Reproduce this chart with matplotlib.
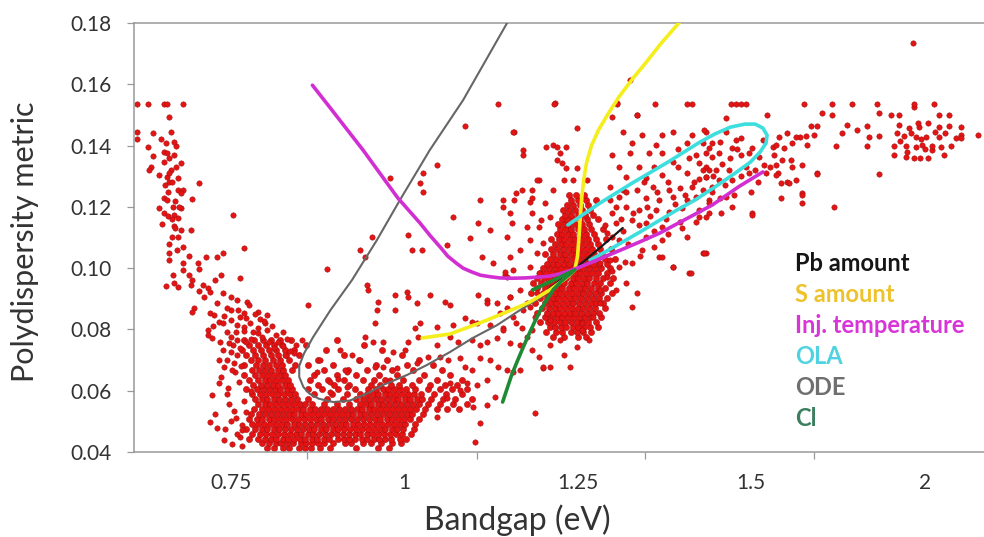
import numpy as np
import matplotlib.pyplot as plt

plt.rcParams["font.family"] = ["Lato", "DejaVu Sans"]

# ---- scatter: (bandgap eV, polydispersity) ----
top_row_y = 0.1535
top_row_x = [0.616, 0.631, 0.654, 0.659, 0.682, 1.135, 1.216, 1.307, 1.361, 1.407, 1.415,
             1.471, 1.478, 1.486, 1.493, 1.652, 1.733, 1.790, 1.862, 1.968, 2.026]

left_band = [
    (0.616, 0.1444), (0.616, 0.1421), (0.638, 0.1441), (0.661, 0.1493), (0.664, 0.1444),
    (0.657, 0.1408), (0.671, 0.1398), (0.631, 0.1395), (0.638, 0.1366), (0.654, 0.1379),
    (0.659, 0.1375), (0.661, 0.1359), (0.654, 0.1346), (0.678, 0.1343), (0.635, 0.1330),
    (0.632, 0.1320), (0.664, 0.1320), (0.647, 0.1304), (0.659, 0.1297), (0.675, 0.1294),
    (0.704, 0.1278), (0.661, 0.1281), (0.674, 0.1255), (0.682, 0.1255), (0.654, 0.1229),
    (0.678, 0.1245), (0.695, 0.1225), (0.659, 0.1222), (0.647, 0.1196), (0.667, 0.1199),
    (0.678, 0.1196), (0.654, 0.1180), (0.668, 0.1173), (0.675, 0.1163), (0.754, 0.1173),
    (0.652, 0.1144), (0.668, 0.1137), (0.678, 0.1124), (0.693, 0.1124), (0.674, 0.1101),
    (0.661, 0.1079), (0.682, 0.1069), (0.769, 0.1066), (0.661, 0.1049), (0.714, 0.1036),
    (0.731, 0.1036), (0.739, 0.1049), (0.661, 0.1026), (0.681, 0.1017), (0.703, 0.1017),
    (0.704, 0.0997), (0.681, 0.0994), (0.667, 0.0977), (0.736, 0.0977), (0.889, 0.0997),
    (0.660, 0.1250), (0.665, 0.1280), (0.670, 0.1220), (0.656, 0.1270), (0.672, 0.1330),
    (0.668, 0.1370), (0.662, 0.1310), (0.676, 0.1200), (0.660, 0.1170), (0.670, 0.1130),
    (0.665, 0.1100), (0.673, 0.1060), (0.669, 0.1410), (0.650, 0.1420), (0.666, 0.1160),
    (0.690, 0.1040),
]

valley_edge = [
    (0.657, 0.0942), (0.668, 0.0951), (0.674, 0.0938), (0.690, 0.0977), (0.695, 0.0961),
    (0.693, 0.0945), (0.710, 0.0945), (0.717, 0.0935), (0.721, 0.0922), (0.728, 0.0961),
    (0.764, 0.0968), (0.739, 0.0919), (0.750, 0.0906), (0.697, 0.0870), (0.695, 0.0857),
    (0.721, 0.0853), (0.726, 0.0847), (0.750, 0.0863), (0.761, 0.0863), (0.774, 0.0889),
    (0.776, 0.0880), (0.789, 0.0857), (0.803, 0.0847), (0.800, 0.0821), (0.764, 0.0840),
    (0.772, 0.0837), (0.750, 0.0831), (0.733, 0.0824), (0.739, 0.0821), (0.760, 0.0814),
    (0.769, 0.0808), (0.783, 0.0792), (0.789, 0.0788), (0.803, 0.0798), (0.815, 0.0782),
    (0.717, 0.0798), (0.718, 0.0782), (0.724, 0.0772), (0.750, 0.0775), (0.760, 0.0765),
    (0.772, 0.0759), (0.754, 0.0749), (0.764, 0.0739), (0.853, 0.0765), (0.862, 0.0880),
    (0.739, 0.0733), (0.750, 0.0726), (0.760, 0.0716), (0.733, 0.0700), (0.740, 0.0677),
    (0.736, 0.0645), (0.733, 0.0625), (0.746, 0.0609), (0.724, 0.0586), (0.728, 0.0524),
    (0.721, 0.0498), (0.731, 0.0478), (0.750, 0.0501), (0.767, 0.0488), (0.767, 0.0472),
    (0.764, 0.0449), (0.748, 0.0555), (0.755, 0.0535), (0.760, 0.0460), (0.742, 0.0476),
    (0.812, 0.0739), (0.818, 0.0759), (0.829, 0.0716), (0.841, 0.0723), (0.879, 0.0700),
    (0.908, 0.0733), (0.874, 0.0661), (0.894, 0.0629), (0.905, 0.0638), (0.918, 0.0612),
    (0.894, 0.0596), (0.918, 0.0661), (0.752, 0.0425), (0.758, 0.0512), (0.745, 0.0590),
    (0.762, 0.0628), (0.770, 0.0565), (0.757, 0.0660), (0.766, 0.0418), (0.740, 0.0440),
    (0.772, 0.0530), (0.779, 0.0598), (0.795, 0.0776), (0.826, 0.0792), (0.845, 0.0750),
    (0.810, 0.0812), (0.832, 0.0770), (0.798, 0.0828), (0.745, 0.0700), (0.755, 0.0690),
    (0.765, 0.0680), (0.752, 0.0668), (0.748, 0.0755), (0.758, 0.0790), (0.770, 0.0795),
    (0.780, 0.0770), (0.790, 0.0805), (0.778, 0.0820), (0.792, 0.0835), (0.785, 0.0850),
    (0.770, 0.0855), (0.740, 0.0845), (0.745, 0.0870), (0.730, 0.0885), (0.760, 0.0895),
    (0.712, 0.0905), (0.705, 0.0925), (0.725, 0.0810), (0.735, 0.0760), (0.745, 0.0790),
    (0.805, 0.0760), (0.825, 0.0745), (0.835, 0.0730),
]

# dense part of the valley, one row per metric level
valley_rows = [
    (0.0412, [0.803, 0.812, 0.826, 0.834, 0.848, 0.857, 0.866, 0.879, 0.893, 0.931, 0.962, 0.978]),
    (0.0428, [0.795, 0.806, 0.815, 0.823, 0.831, 0.840, 0.851, 0.859, 0.868, 0.876, 0.884, 0.897,
              0.915, 0.924, 0.941, 0.952, 0.967, 0.983, 0.996]),
    (0.0444, [0.776, 0.790, 0.799, 0.808, 0.816, 0.825, 0.833, 0.842, 0.850, 0.858, 0.867, 0.875,
              0.884, 0.892, 0.905, 0.913, 0.921, 0.930, 0.939, 0.947, 0.956, 0.964, 0.973, 0.981,
              0.994, 1.003]),
    (0.0460, [0.781, 0.793, 0.801, 0.810, 0.818, 0.827, 0.835, 0.844, 0.852, 0.861, 0.869, 0.878,
              0.886, 0.895, 0.903, 0.912, 0.920, 0.929, 0.937, 0.946, 0.954, 0.963, 0.971, 0.980,
              0.988, 0.997, 1.010]),
    (0.0476, [0.772, 0.786, 0.795, 0.803, 0.812, 0.820, 0.829, 0.837, 0.846, 0.854, 0.863, 0.871,
              0.880, 0.888, 0.897, 0.905, 0.914, 0.922, 0.931, 0.939, 0.948, 0.956, 0.965, 0.973,
              0.982, 0.990, 0.999, 1.014]),
    (0.0492, [0.781, 0.790, 0.798, 0.807, 0.815, 0.824, 0.832, 0.841, 0.849, 0.858, 0.866, 0.875,
              0.883, 0.892, 0.900, 0.909, 0.917, 0.926, 0.934, 0.943, 0.951, 0.960, 0.968, 0.977,
              0.985, 0.994, 1.002, 1.016]),
    (0.0508, [0.776, 0.788, 0.796, 0.805, 0.813, 0.822, 0.830, 0.839, 0.847, 0.856, 0.864, 0.873,
              0.881, 0.890, 0.898, 0.907, 0.915, 0.924, 0.932, 0.941, 0.949, 0.958, 0.966, 0.975,
              0.983, 0.992, 1.000, 1.009, 1.022]),
    (0.0524, [0.779, 0.791, 0.800, 0.808, 0.817, 0.825, 0.834, 0.842, 0.851, 0.859, 0.868, 0.876,
              0.885, 0.893, 0.902, 0.910, 0.919, 0.927, 0.936, 0.944, 0.953, 0.961, 0.970, 0.978,
              0.987, 0.995, 1.004, 1.012, 1.027]),
    (0.0540, [0.784, 0.796, 0.804, 0.813, 0.821, 0.830, 0.838, 0.847, 0.855, 0.864, 0.872, 0.881,
              0.889, 0.898, 0.906, 0.915, 0.923, 0.932, 0.940, 0.949, 0.957, 0.966, 0.974, 0.983,
              0.991, 1.000, 1.008, 1.017, 1.030, 1.048, 1.062, 1.079]),
    (0.0556, [0.790, 0.799, 0.807, 0.816, 0.824, 0.833, 0.841, 0.850, 0.858, 0.867, 0.885, 0.903,
              0.921, 0.936, 0.945, 0.953, 0.962, 0.970, 0.979, 0.987, 0.996, 1.004, 1.013, 1.021,
              1.034, 1.052, 1.070, 1.091]),
    (0.0572, [0.786, 0.795, 0.803, 0.812, 0.820, 0.829, 0.837, 0.846, 0.862, 0.889, 0.912, 0.931,
              0.941, 0.950, 0.958, 0.967, 0.975, 0.984, 0.992, 1.001, 1.009, 1.018, 1.026, 1.039,
              1.056, 1.074, 1.098]),
    (0.0588, [0.781, 0.793, 0.801, 0.810, 0.818, 0.827, 0.835, 0.843, 0.870, 0.896, 0.918, 0.936,
              0.946, 0.955, 0.963, 0.972, 0.980, 0.989, 0.997, 1.006, 1.014, 1.025, 1.043, 1.061,
              1.083]),
    (0.0604, [0.772, 0.788, 0.797, 0.805, 0.814, 0.822, 0.831, 0.839, 0.862, 0.882, 0.905, 0.929,
              0.948, 0.960, 0.969, 0.977, 0.986, 0.994, 1.003, 1.016, 1.034, 1.052, 1.069, 1.090]),
    (0.0620, [0.783, 0.794, 0.802, 0.811, 0.819, 0.828, 0.836, 0.876, 0.899, 0.921, 0.952, 0.966,
              0.981, 0.993, 1.012, 1.038, 1.059, 1.077]),
    (0.0636, [0.776, 0.790, 0.799, 0.807, 0.816, 0.824, 0.833, 0.865, 0.890, 0.913, 0.941, 0.957,
              0.972, 0.999, 1.021, 1.047, 1.084]),
    (0.0652, [0.769, 0.786, 0.795, 0.804, 0.812, 0.821, 0.829, 0.871, 0.904, 0.931, 0.964, 0.990,
              1.029, 1.066]),
    (0.0668, [0.781, 0.791, 0.800, 0.809, 0.818, 0.826, 0.838, 0.884, 0.919, 0.947, 0.983, 1.013,
              1.054]),
    (0.0684, [0.770, 0.787, 0.797, 0.806, 0.815, 0.824, 0.843, 0.861, 0.897, 0.960, 1.004, 1.041]),
    (0.0700, [0.779, 0.790, 0.800, 0.811, 0.821, 0.834, 0.876, 0.935, 0.975, 1.022]),
    (0.0716, [0.773, 0.786, 0.797, 0.808, 0.818, 0.830, 0.848, 0.913, 0.997]),
    (0.0732, [0.767, 0.782, 0.794, 0.805, 0.816, 0.828, 0.841, 0.887, 0.968]),
    (0.0748, [0.776, 0.789, 0.801, 0.812, 0.824, 0.859, 0.942]),
    (0.0764, [0.770, 0.784, 0.797, 0.809, 0.822, 0.837, 0.904]),
]

mid_pts = [
    (0.947, 0.0945), (0.948, 0.0929), (0.963, 0.0889), (0.961, 0.0863), (0.987, 0.0912),
    (1.004, 0.0922), (1.006, 0.0906), (1.019, 0.0886), (1.037, 0.0912), (1.059, 0.0889),
    (1.066, 0.0880), (1.106, 0.0912), (1.119, 0.0896), (1.119, 0.0886), (1.134, 0.0886),
    (1.145, 0.0977), (1.152, 0.0906), (1.148, 0.0870), (1.138, 0.0853), (0.958, 0.0821),
    (0.987, 0.0863), (1.023, 0.0821), (1.016, 0.0805), (1.047, 0.0808), (1.070, 0.0814),
    (1.088, 0.0837), (1.098, 0.0824), (1.105, 0.0821), (1.124, 0.0814), (1.142, 0.0805),
    (1.162, 0.0821), (1.170, 0.0805), (1.171, 0.0863), (1.177, 0.0886), (1.188, 0.0840),
    (1.185, 0.0798), (0.944, 0.0775), (0.955, 0.0759), (0.970, 0.0759), (1.006, 0.0759),
    (1.020, 0.0775), (0.984, 0.0726), (1.001, 0.0733), (1.047, 0.0749), (1.066, 0.0775),
    (1.078, 0.0759), (1.098, 0.0765), (1.109, 0.0749), (1.119, 0.0759), (1.134, 0.0772),
    (1.152, 0.0756), (1.167, 0.0749), (1.177, 0.0775), (1.184, 0.0733), (1.195, 0.0710),
    (1.200, 0.0674), (1.210, 0.0677), (0.925, 0.0716), (0.937, 0.0700), (0.915, 0.0668),
    (0.958, 0.0677), (0.970, 0.0677), (0.990, 0.0674), (1.019, 0.0690), (1.034, 0.0710),
    (1.052, 0.0710), (1.063, 0.0700), (1.080, 0.0707), (1.088, 0.0677), (1.098, 0.0668),
    (1.109, 0.0707), (1.124, 0.0700), (1.135, 0.0677), (1.148, 0.0668), (1.157, 0.0661),
    (1.167, 0.0668), (1.131, 0.0579), (1.119, 0.0553), (1.099, 0.0547), (1.119, 0.0635),
    (1.105, 0.0619), (1.091, 0.0625), (1.080, 0.0602), (1.066, 0.0625), (1.062, 0.0576),
    (1.047, 0.0514), (1.109, 0.0495), (1.102, 0.0433), (1.188, 0.0527), (0.980, 0.0635),
]

upper_pts = [
    (1.088, 0.1464), (1.159, 0.1444), (1.249, 0.1457), (1.325, 0.1614), (1.299, 0.1493),
    (1.335, 0.1500), (1.047, 0.1336), (1.027, 0.1310), (1.023, 0.1278), (1.027, 0.1248),
    (0.980, 0.1294), (1.171, 0.1385), (1.171, 0.1369), (1.205, 0.1395), (1.214, 0.1402),
    (1.220, 0.1395), (1.234, 0.1395), (1.224, 0.1376), (1.228, 0.1343), (1.195, 0.1287),
    (1.170, 0.1255), (1.162, 0.1245), (1.142, 0.1222), (1.142, 0.1199), (1.109, 0.1222),
    (1.070, 0.1167), (1.106, 0.1147), (1.152, 0.1180), (1.181, 0.1216), (1.185, 0.1180),
    (1.198, 0.1157), (1.124, 0.1124), (1.095, 0.1098), (1.112, 0.1036), (1.128, 0.1017),
    (1.062, 0.1075), (1.011, 0.1059), (1.026, 0.1059), (1.006, 0.1108), (0.954, 0.1101),
    (0.937, 0.1059), (0.944, 0.1036), (1.145, 0.0987), (1.157, 0.1444), (1.221, 0.1353),
    (1.234, 0.1327), (1.249, 0.1327), (1.231, 0.1287), (1.243, 0.1287), (1.263, 0.1287),
    (1.191, 0.1287), (1.185, 0.1255), (1.214, 0.1255), (1.159, 0.1222), (1.185, 0.1229),
    (1.203, 0.1212), (1.210, 0.1167), (1.195, 0.1134), (1.177, 0.1134), (1.155, 0.1147),
    (1.148, 0.1101), (1.181, 0.1092), (1.200, 0.1082), (1.167, 0.1059), (1.191, 0.1049),
    (1.152, 0.1036), (1.157, 0.0994), (1.181, 0.1004), (1.195, 0.0984), (1.148, 0.0971),
    (1.167, 0.0929), (1.191, 0.0919), (1.152, 0.0906), (1.181, 0.0873), (1.210, 0.0831),
    (1.157, 0.0840), (1.142, 0.0798),
]

# dense cluster around 1.25 eV
peak_rows = [
    (0.0775, [1.214, 1.231, 1.250, 1.262]),
    (0.0791, [1.205, 1.219, 1.228, 1.240, 1.249, 1.258, 1.270]),
    (0.0807, [1.210, 1.218, 1.226, 1.234, 1.243, 1.251, 1.259, 1.268, 1.279]),
    (0.0823, [1.196, 1.208, 1.216, 1.224, 1.232, 1.241, 1.249, 1.257, 1.265, 1.276]),
    (0.0839, [1.203, 1.212, 1.220, 1.228, 1.236, 1.245, 1.253, 1.261, 1.270, 1.284]),
    (0.0855, [1.192, 1.206, 1.214, 1.222, 1.230, 1.239, 1.247, 1.255, 1.263, 1.272, 1.281]),
    (0.0871, [1.199, 1.209, 1.217, 1.225, 1.233, 1.242, 1.250, 1.258, 1.266, 1.275, 1.290]),
    (0.0887, [1.188, 1.203, 1.211, 1.219, 1.227, 1.236, 1.244, 1.252, 1.260, 1.269, 1.277, 1.287]),
    (0.0903, [1.196, 1.206, 1.214, 1.222, 1.230, 1.239, 1.247, 1.255, 1.263, 1.272, 1.281, 1.293]),
    (0.0919, [1.183, 1.200, 1.209, 1.217, 1.225, 1.233, 1.242, 1.250, 1.258, 1.266, 1.275, 1.284,
              1.299]),
    (0.0935, [1.192, 1.203, 1.212, 1.220, 1.228, 1.237, 1.245, 1.253, 1.261, 1.270, 1.279, 1.290]),
    (0.0951, [1.186, 1.198, 1.207, 1.215, 1.223, 1.231, 1.240, 1.248, 1.256, 1.264, 1.273, 1.283,
              1.296]),
    (0.0967, [1.191, 1.201, 1.210, 1.218, 1.226, 1.234, 1.243, 1.251, 1.259, 1.267, 1.276, 1.286,
              1.301]),
    (0.0983, [1.196, 1.205, 1.213, 1.221, 1.229, 1.238, 1.246, 1.254, 1.262, 1.271, 1.280, 1.292]),
    (0.0999, [1.200, 1.209, 1.217, 1.225, 1.233, 1.242, 1.250, 1.258, 1.266, 1.275, 1.284, 1.297]),
    (0.1015, [1.206, 1.214, 1.222, 1.230, 1.238, 1.247, 1.255, 1.263, 1.272, 1.281, 1.293]),
    (0.1031, [1.210, 1.219, 1.227, 1.235, 1.243, 1.252, 1.260, 1.268, 1.278, 1.289, 1.304]),
    (0.1047, [1.203, 1.215, 1.224, 1.232, 1.240, 1.248, 1.257, 1.265, 1.274, 1.285]),
    (0.1063, [1.211, 1.221, 1.229, 1.237, 1.245, 1.254, 1.262, 1.271, 1.282, 1.298]),
    (0.1079, [1.217, 1.226, 1.234, 1.242, 1.250, 1.259, 1.268, 1.279]),
    (0.1095, [1.212, 1.223, 1.231, 1.239, 1.247, 1.256, 1.265, 1.276, 1.291]),
    (0.1111, [1.220, 1.228, 1.236, 1.244, 1.253, 1.262, 1.273]),
    (0.1127, [1.225, 1.233, 1.241, 1.250, 1.259, 1.270, 1.286]),
    (0.1143, [1.222, 1.230, 1.238, 1.247, 1.256, 1.266]),
    (0.1159, [1.227, 1.235, 1.244, 1.253, 1.263, 1.279]),
    (0.1175, [1.232, 1.241, 1.250, 1.260, 1.272]),
    (0.1191, [1.229, 1.238, 1.247, 1.257, 1.268]),
    (0.1207, [1.235, 1.244, 1.254, 1.265]),
    (0.1223, [1.241, 1.251, 1.262, 1.277]),
    (0.1239, [1.238, 1.248, 1.259]),
]

peak_side = [
    (1.282, 0.1017), (1.296, 0.1026), (1.310, 0.1004), (1.292, 0.0971), (1.320, 0.0951),
    (1.306, 0.0929), (1.282, 0.0929), (1.282, 0.0886), (1.272, 0.0840), (1.257, 0.0798),
    (1.249, 0.0743), (1.210, 0.0749), (1.200, 0.0677), (1.239, 0.0677), (1.257, 0.0821),
    (1.224, 0.0765), (1.267, 0.0765), (1.231, 0.0716), (1.300, 0.0990), (1.318, 0.1020),
]

arm_pts = [
    (1.217, 0.1539), (1.307, 0.1539), (1.335, 0.1500), (1.315, 0.1444), (1.343, 0.1434),
    (1.372, 0.1434), (1.387, 0.1444), (1.415, 0.1434), (1.435, 0.1444), (1.329, 0.1408),
    (1.363, 0.1402), (1.407, 0.1408), (1.325, 0.1376), (1.353, 0.1376), (1.372, 0.1376),
    (1.440, 0.1392), (1.300, 0.1369), (1.310, 0.1330), (1.339, 0.1330), (1.387, 0.1346),
    (1.425, 0.1343), (1.444, 0.1362), (1.320, 0.1297), (1.349, 0.1294), (1.372, 0.1304),
    (1.407, 0.1310), (1.435, 0.1297), (1.296, 0.1265), (1.315, 0.1255), (1.335, 0.1255),
    (1.358, 0.1265), (1.382, 0.1255), (1.397, 0.1261), (1.415, 0.1265), (1.430, 0.1255),
    (1.444, 0.1265), (1.296, 0.1222), (1.310, 0.1232), (1.349, 0.1229), (1.368, 0.1222),
    (1.387, 0.1232), (1.407, 0.1222), (1.421, 0.1232), (1.440, 0.1222), (1.320, 0.1199),
    (1.339, 0.1190), (1.363, 0.1190), (1.382, 0.1183), (1.401, 0.1196), (1.425, 0.1190),
    (1.306, 0.1147), (1.329, 0.1157), (1.349, 0.1147), (1.372, 0.1134), (1.397, 0.1150),
    (1.425, 0.1167), (1.349, 0.1101), (1.372, 0.1092), (1.407, 0.1101), (1.292, 0.1115),
    (1.310, 0.1092), (1.343, 0.1059), (1.368, 0.1036), (1.387, 0.1004), (1.411, 0.0984),
    (1.430, 0.1049), (1.329, 0.1017), (1.335, 0.0919), (1.329, 0.0873),
    (1.546, 0.1500), (1.464, 0.1490), (1.432, 0.1451), (1.444, 0.1408), (1.464, 0.1444),
    (1.486, 0.1424), (1.503, 0.1392), (1.473, 0.1392), (1.454, 0.1376), (1.435, 0.1376),
    (1.486, 0.1369), (1.523, 0.1362), (1.566, 0.1369), (1.435, 0.1330), (1.450, 0.1320),
    (1.468, 0.1320), (1.493, 0.1330), (1.537, 0.1336), (1.572, 0.1336), (1.435, 0.1297),
    (1.454, 0.1287), (1.473, 0.1287), (1.497, 0.1310), (1.444, 0.1248), (1.464, 0.1232),
    (1.440, 0.1212), (1.457, 0.1180), (1.435, 0.1167), (1.430, 0.1408), (1.478, 0.1418),
    (1.497, 0.1376), (1.534, 0.1418), (1.563, 0.1395), (1.641, 0.1428), (1.589, 0.1353),
    (1.618, 0.1330), (1.629, 0.1287), (1.554, 0.1330), (1.577, 0.1310), (1.603, 0.1281),
    (1.647, 0.1245), (1.690, 0.1310), (1.503, 0.1180), (1.435, 0.1049), (1.414, 0.0984),
    (1.387, 0.1004), (1.372, 0.1036), (1.473, 0.1199), (1.503, 0.1173), (1.432, 0.1049),
    (1.300, 0.1100), (1.315, 0.1120), (1.322, 0.1080), (1.338, 0.1140), (1.355, 0.1170),
    (1.360, 0.1120), (1.378, 0.1160), (1.390, 0.1210), (1.405, 0.1240), (1.418, 0.1280),
    (1.430, 0.1320), (1.445, 0.1300), (1.458, 0.1340), (1.470, 0.1360), (1.480, 0.1390),
    (1.455, 0.1410), (1.420, 0.1370), (1.395, 0.1390), (1.380, 0.1280), (1.365, 0.1250),
    (1.350, 0.1200), (1.330, 0.1180), (1.312, 0.1160), (1.300, 0.1180), (1.290, 0.1140),
    (1.305, 0.1200), (1.320, 0.1250), (1.345, 0.1280), (1.360, 0.1330), (1.395, 0.1330),
    (1.410, 0.1360), (1.425, 0.1290), (1.440, 0.1320), (1.462, 0.1270), (1.485, 0.1300),
    (1.510, 0.1320), (1.520, 0.1280), (1.500, 0.1250), (1.475, 0.1240), (1.455, 0.1230),
    (1.440, 0.1180), (1.420, 0.1150), (1.400, 0.1130), (1.380, 0.1110), (1.360, 0.1070),
    (1.340, 0.1040),
]

far_pts = [
    (1.704, 0.1506), (1.733, 0.1500), (1.868, 0.1506), (1.902, 0.1500), (1.925, 0.1500),
    (1.968, 0.1526), (2.040, 0.1500), (2.069, 0.1500), (1.672, 0.1464), (1.690, 0.1464),
    (1.776, 0.1467), (1.805, 0.1451), (1.833, 0.1464), (1.925, 0.1467), (1.954, 0.1457),
    (1.983, 0.1460), (2.011, 0.1473), (2.040, 0.1460), (2.069, 0.1464), (2.106, 0.1460),
    (2.155, 0.1434), (1.580, 0.1428), (1.603, 0.1441), (1.629, 0.1428), (1.658, 0.1431),
    (1.681, 0.1434), (1.761, 0.1441), (1.839, 0.1428), (1.868, 0.1431), (1.940, 0.1431),
    (1.974, 0.1428), (2.003, 0.1428), (2.040, 0.1428), (2.089, 0.1424), (2.106, 0.1434),
    (1.572, 0.1402), (1.595, 0.1392), (1.618, 0.1408), (1.661, 0.1402), (1.744, 0.1398),
    (1.833, 0.1398), (1.911, 0.1398), (1.945, 0.1398), (1.974, 0.1395), (1.991, 0.1402),
    (2.020, 0.1385), (2.046, 0.1395), (2.077, 0.1398), (2.106, 0.1424), (1.911, 0.1369),
    (1.945, 0.1362), (1.968, 0.1359), (1.988, 0.1359), (2.011, 0.1359), (2.055, 0.1369),
    (1.615, 0.1353), (1.647, 0.1336), (1.690, 0.1307), (1.868, 0.1307), (1.543, 0.1310),
    (1.572, 0.1304), (1.586, 0.1278), (1.609, 0.1278), (1.647, 0.1238), (1.647, 0.1212),
    (1.586, 0.1229), (1.739, 0.1199), (1.930, 0.1415), (1.960, 0.1440), (1.990, 0.1420),
    (2.030, 0.1445), (1.950, 0.1380), (2.000, 0.1390), (1.920, 0.1440), (2.060, 0.1440),
    (1.980, 0.1475), (2.020, 0.1400), (1.966, 0.1734),
]

# ---- parameter sweeps: (bandgap eV, polydispersity) ----
pb_curve = [(1.207, 0.0929), (1.246, 0.0997), (1.282, 0.1066), (1.315, 0.1131)]
s_curve = [(1.026, 0.0772), (1.066, 0.0785), (1.109, 0.0821), (1.148, 0.0857), (1.181, 0.0889),
           (1.210, 0.0929), (1.232, 0.0965), (1.246, 0.0994), (1.250, 0.1040), (1.252, 0.1100),
           (1.254, 0.1170), (1.256, 0.1230), (1.259, 0.1290), (1.263, 0.1345), (1.270, 0.1400),
           (1.280, 0.1450), (1.293, 0.1500), (1.310, 0.1560), (1.330, 0.1620), (1.350, 0.1675),
           (1.369, 0.1730), (1.402, 0.1816)]
inj_curve = [(0.868, 0.1597), (0.894, 0.1522), (0.941, 0.1385), (0.991, 0.1229), (1.023, 0.1147),
             (1.038, 0.1105), (1.052, 0.1069), (1.063, 0.1039), (1.076, 0.1015), (1.085, 0.1000),
             (1.097, 0.0988), (1.110, 0.0977), (1.124, 0.0972), (1.138, 0.0968), (1.155, 0.0967),
             (1.174, 0.0968), (1.195, 0.0971), (1.210, 0.0974), (1.224, 0.0981), (1.246, 0.0997),
             (1.282, 0.1030), (1.339, 0.1085), (1.368, 0.1114), (1.444, 0.1206), (1.483, 0.1267),
             (1.534, 0.1314)]
ola_curve = [(1.236, 0.1141), (1.282, 0.1212), (1.329, 0.1278), (1.378, 0.1343), (1.426, 0.1411),
             (1.448, 0.1438), (1.470, 0.1460), (1.491, 0.1470), (1.512, 0.1470), (1.534, 0.1457),
             (1.546, 0.1434), (1.543, 0.1408), (1.526, 0.1379), (1.499, 0.1346), (1.477, 0.1310),
             (1.448, 0.1265), (1.419, 0.1222), (1.388, 0.1183), (1.340, 0.1118), (1.297, 0.1062),
             (1.268, 0.1026)]
ode_curve = [(1.155, 0.1826), (1.085, 0.1548), (1.037, 0.1385), (0.994, 0.1222), (0.961, 0.1092),
             (0.925, 0.0961), (0.894, 0.0863), (0.869, 0.0775), (0.856, 0.0722), (0.849, 0.0681),
             (0.849, 0.0645), (0.855, 0.0612), (0.864, 0.0590), (0.877, 0.0574), (0.898, 0.0563),
             (0.922, 0.0568), (0.946, 0.0590), (0.970, 0.0619), (1.004, 0.0651), (1.033, 0.0684),
             (1.066, 0.0726), (1.099, 0.0772), (1.134, 0.0814), (1.167, 0.0863), (1.195, 0.0902),
             (1.220, 0.0945), (1.246, 0.0994), (1.282, 0.1033), (1.310, 0.1059)]
cl_curve = [(1.185, 0.0929), (1.210, 0.0955), (1.246, 0.0994), (1.227, 0.0958), (1.215, 0.0930),
            (1.207, 0.0902), (1.197, 0.0865), (1.188, 0.0824), (1.178, 0.0775), (1.170, 0.0733),
            (1.162, 0.0690), (1.155, 0.0651), (1.142, 0.0563)]

x_ticks = [0.75, 1, 1.25, 1.5, 2]
x_tick_labels = ["0.75", "1", "1.25", "1.5", "2"]
x_tick_marks = [0.860, 1.105, 1.347, 1.682]
y_ticks = [0.04, 0.06, 0.08, 0.10, 0.12, 0.14, 0.16, 0.18]

legend_names = ["Pb amount", "S amount", "Inj. temperature", "OLA", "ODE", "Cl"]
legend_colors = ["#151515", "#eec22a", "#d835d8", "#4fd3e0", "#6f6f6f", "#3b7f5e"]


def fwd(x):
    # bandgap axis compressed by half above 1.5 eV
    x = np.asarray(x, dtype=float)
    return np.where(x <= 1.5, x, 1.5 + (x - 1.5) / 2)


def inv(d):
    d = np.asarray(d, dtype=float)
    return np.where(d <= 1.5, d, 1.5 + (d - 1.5) * 2)


sx, sy = [], []
for pts in (left_band, valley_edge, mid_pts, upper_pts, peak_side, arm_pts, far_pts):
    sx += [p[0] for p in pts]
    sy += [p[1] for p in pts]
sx += top_row_x
sy += [top_row_y] * len(top_row_x)

dx, dy = [], []
for rows in (valley_rows, peak_rows):
    for yv, row in rows:
        dx += row
        dy += [yv] * len(row)

fig = plt.figure(figsize=(9.84, 5.37), dpi=100)
ax = fig.add_axes([0.1362, 0.1583, 0.8638, 0.7989])
ax.set_xscale("function", functions=(fwd, inv))

dot = dict(c="#e41414", edgecolors="#a00c0c", linewidths=0.35, zorder=2)
ax.scatter(dx, dy, s=20, **dot)
ax.scatter(sx, sy, s=15, **dot)

curves = [
    (ode_curve, "#666666", 1.5),
    (pb_curve, "#1a1a1a", 1.6),
    (s_curve, "#f4ee1c", 2.6),
    (ola_curve, "#3fdede", 2.6),
    (inj_curve, "#d22fd2", 2.6),
    (cl_curve, "#1f8a34", 2.6),
]
for pts, col, lw in curves:
    ax.plot([p[0] for p in pts], [p[1] for p in pts], color=col, lw=lw,
            solid_joinstyle="round", solid_capstyle="round", zorder=3)

ax.set_xlim(0.611, 2.171)
ax.set_ylim(0.04, 0.18)

ax.set_xticks(x_ticks)
ax.set_xticklabels(x_tick_labels)
ax.set_xticks(x_tick_marks, minor=True)
ax.set_yticks(y_ticks)
ax.set_yticklabels([f"{v:.2f}" for v in y_ticks])
ax.tick_params(axis="x", which="major", length=0, pad=15, labelsize=15, labelcolor="#333333")
ax.tick_params(axis="x", which="minor", length=5, width=0.9, color="#999999", direction="out")
ax.tick_params(axis="y", which="major", length=5, width=0.9, color="#999999", direction="out",
               pad=11, labelsize=15, labelcolor="#333333")
ax.tick_params(axis="y", which="minor", length=0)

for side in ("left", "bottom", "top"):
    ax.spines[side].set_color("#999999")
    ax.spines[side].set_linewidth(1.1)
ax.spines["right"].set_visible(False)

ax.set_xlabel("Bandgap (eV)", fontsize=23, color="#333333")
ax.xaxis.label.set_va("center")
ax.xaxis.set_label_coords(0.4506, -0.158)
ax.set_ylabel("Polydispersity metric", fontsize=22, color="#333333")
ax.yaxis.label.set_va("center")
ax.yaxis.set_label_coords(-0.128, 0.4895)

for i, (name, col) in enumerate(zip(legend_names, legend_colors)):
    fig.text(795 / 984, 1 - (264 + 30.8 * i) / 537, name, color=col, fontsize=17,
             fontweight="bold", va="center", ha="left")

fig.savefig("out.png", dpi=100)
